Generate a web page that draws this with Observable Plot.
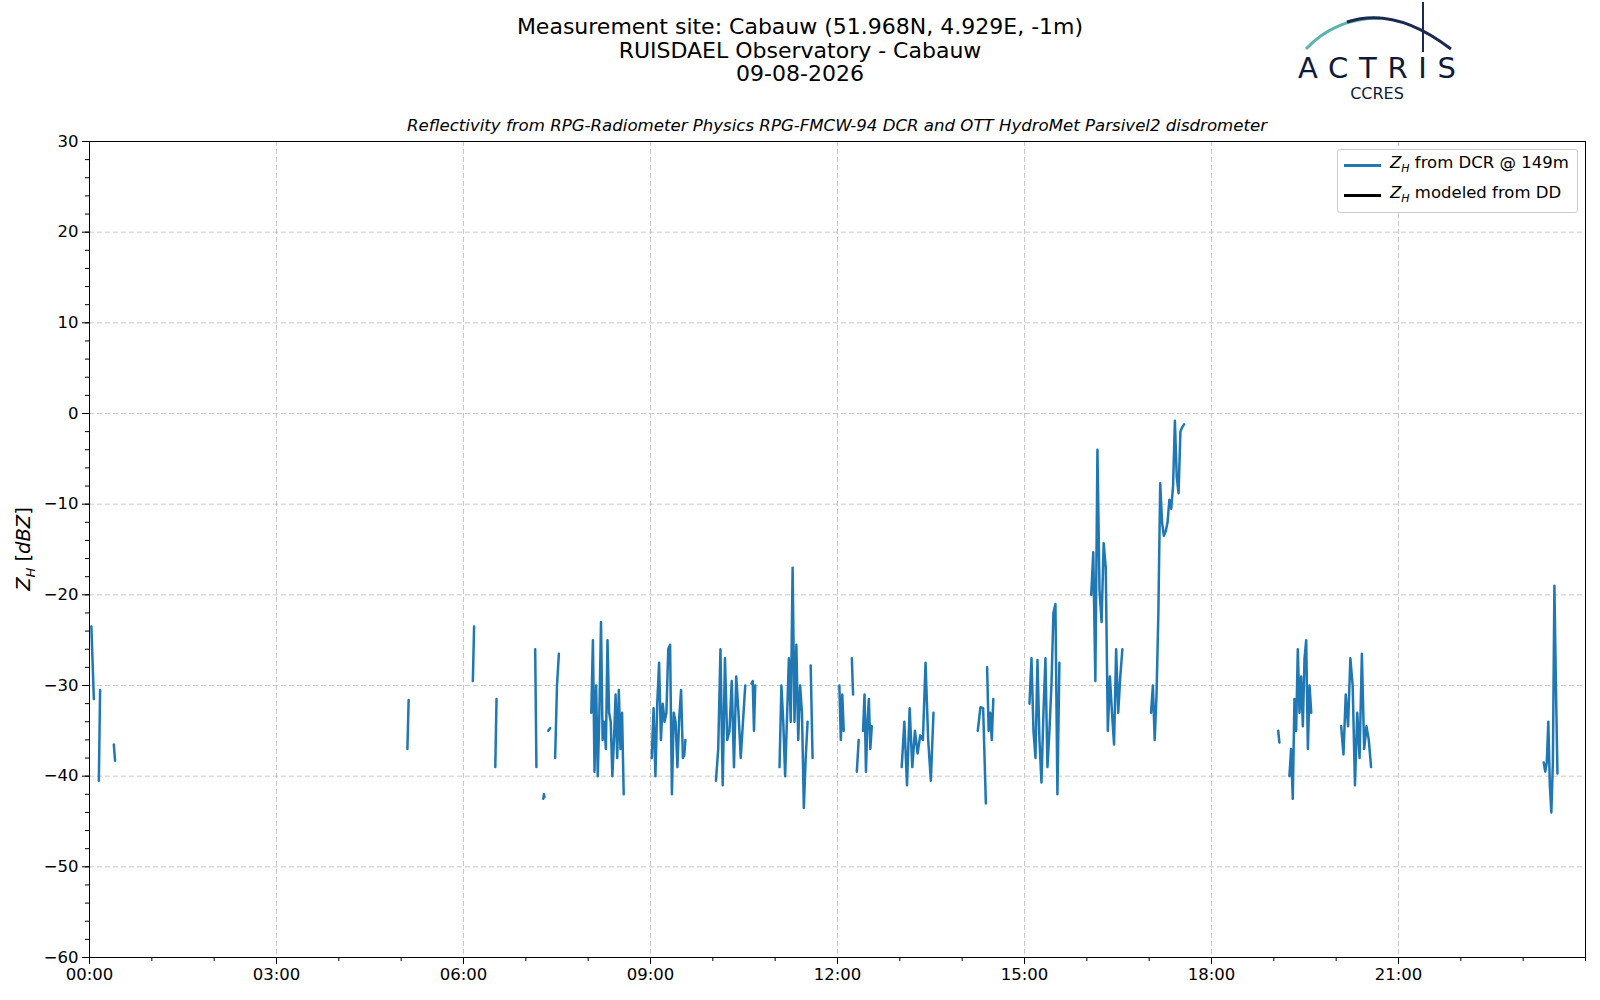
<!DOCTYPE html>
<html><head><meta charset="utf-8">
<script src="https://cdn.jsdelivr.net/npm/d3@7"></script>
<script src="https://cdn.jsdelivr.net/npm/@observablehq/plot@0.6"></script>
<style>
html,body{margin:0;background:#fff;font-family:"DejaVu Sans",sans-serif;overflow:hidden;}
#wrap{position:relative;width:1600px;height:1000px;overflow:hidden;}
.t{position:absolute;left:0;width:1600px;text-align:center;font-size:22px;line-height:23.5px;}
#sub{position:absolute;left:89px;width:1496px;top:116px;text-align:center;font-size:16.6px;font-style:italic;}
#leg{position:absolute;left:1337px;top:149px;width:239px;height:62px;border:1px solid #ccc;border-radius:3px;background:#fff;font-size:16.5px;}
#leg div{position:absolute;left:52px;}
#leg span.l{position:absolute;left:6px;width:37px;height:2.6px;}
</style></head><body>
<div id="wrap">
<div class="t" style="top:15px">Measurement site: Cabauw (51.968N, 4.929E, -1m)<br>RUISDAEL Observatory - Cabauw<br>09-08-2026</div>
<div id="sub">Reflectivity from RPG-Radiometer Physics RPG-FMCW-94 DCR and OTT HydroMet Parsivel2 disdrometer</div>
<svg style="position:absolute;left:1280px;top:0" width="200" height="110">
<path d="M26,49 Q55,18 100,18" fill="none" stroke="#5bb3b0" stroke-width="3"/>
<path d="M67,22 Q115,6 171,49" fill="none" stroke="#1a2a50" stroke-width="3"/>
<line x1="143" y1="2" x2="143" y2="52" stroke="#1a2a50" stroke-width="2"/>
<text x="18" y="78" textLength="158" lengthAdjust="spacing" font-size="29" fill="#0d1a3a" font-family="DejaVu Sans">ACTRIS</text>
<text x="97" y="99" text-anchor="middle" font-size="16" fill="#0d1a3a" font-family="DejaVu Sans">CCRES</text>
</svg>
<div id="chart" style="position:absolute;left:0;top:0"></div>
<div id="leg">
<span class="l" style="top:14px;background:#1f77b4"></span><div style="top:3px"><i>Z<sub style="font-size:11px">H</sub></i> from DCR @ 149m</div>
<span class="l" style="top:44px;background:#000"></span><div style="top:33px"><i>Z<sub style="font-size:11px">H</sub></i> modeled from DD</div>
</div>
</div>
<script>
// segments: [startHour, endHour, values dBZ]
const segStart = [0.03,0.15,0.39,5.10,6.15,6.51,7.15,7.28,7.36,7.47,8.05,9.02,9.54,10.05,10.62,11.07,11.57,12.03,12.23,12.31,12.41,13.03,14.25,14.40,15.08,16.07,17.03,19.07,19.25,20.08,23.33];
const segEnd   = [0.07,0.17,0.41,5.12,6.17,6.53,7.17,7.30,7.39,7.53,8.57,9.52,9.56,10.52,10.68,11.52,11.60,12.10,12.25,12.34,12.55,13.54,14.38,14.50,15.56,16.57,17.56,19.09,19.60,20.56,23.55];
const segVals = [
 [-23.5,-31.5],[-40.5,-30.5],[-36.5,-38.3],[-37,-31.6],[-29.5,-23.5],[-39,-31.5],[-26,-39],[-42.5,-42,-42.3],[-35,-34.7],[-38,-30,-26.5],
 [-33,-25,-39.5,-30,-40,-33,-23,-36,-34,-37,-25,-33,-34,-40,-36,-31,-38,-30.5,-37,-33,-42],
 [-38,-32.5,-40,-32,-27.5,-36,-32,-34,-33,-26,-25.5,-42,-33,-34,-39,-33.5,-30.5,-38],
 [-37.8,-36],
 [-40.5,-37,-26,-41,-27,-36,-35,-29.5,-39,-29,-33,-38,-34,-30],
 [-29.8,-29.5,-35,-30],
 [-39,-30,-34,-40,-33.5,-27,-34,-17,-34,-25.5,-36,-30,-33,-43.5,-38,-34],
 [-27.8,-38],
 [-30,-36,-31,-35],[-27,-31],[-39.5,-36],[-35,-31,-39.5,-34,-31.5,-37,-34.5],
 [-39,-34,-41,-32.5,-39,-35,-37.5,-35.5,-36,-27.5,-36,-40.5,-33],
 [-35,-32.4,-32.5,-43],[-28,-35,-33,-36,-31.5],
 [-32,-27,-35,-38,-27.2,-36,-40.7,-33,-27,-39,-35,-30,-22,-21,-42,-27.5],
 [-20,-15.3,-29.5,-4,-19.5,-23,-14.3,-17,-35,-29,-33,-36.5,-26,-33,-29,-26],
 [-33,-30,-36,-31,-22,-7.7,-12,-13.5,-13,-12,-9.5,-10.5,-8,-0.8,-7,-8.8,-2,-1.5,-1.2],
 [-35,-36.3],
 [-40,-37,-42.5,-31.5,-35,-26,-33,-29,-34.5,-27,-25,-37,-30,-33],
 [-34.5,-37.6,-31,-34.5,-27,-30,-41,-33,-38,-26.5,-37,-34.5,-36,-39],
 [-38.5,-39.5,-38.5,-34,-41,-44,-38.5,-19,-30,-39.7]
];
const yTicks = [-60,-50,-40,-30,-20,-10,0,10,20,30];
const day0 = Date.UTC(2026,7,9);
const rows = [];
segVals.forEach((vals,i)=>{
  const n = vals.length;
  vals.forEach((v,j)=>{
    const h = segStart[i] + (n>1 ? (segEnd[i]-segStart[i])*j/(n-1) : 0);
    rows.push({seg:i, t:new Date(day0 + h*3600e3), v});
  });
});
const xTicks = d3.range(0,24,3).map(h=>new Date(day0+h*3600e3));
const xMinor = d3.range(0,25,1).map(h=>new Date(day0+h*3600e3));
const yMinor = d3.range(-60,31,2);
const plot = Plot.plot({
  width:1600, height:1000,
  marginLeft:89, marginRight:15, marginTop:141, marginBottom:43,
  style:{fontSize:"16.5px", fontFamily:"DejaVu Sans", background:"transparent", color:"#000"},
  x:{type:"utc", domain:[new Date(day0), new Date(day0+24*3600e3)]},
  y:{type:"linear", domain:[-60,30]},
  marks:[
    Plot.gridX(xTicks.slice(1),{stroke:"#bbb", strokeOpacity:0.8, strokeDasharray:"5,3"}),
    Plot.gridY(yTicks.slice(1,-1),{stroke:"#bbb", strokeOpacity:0.8, strokeDasharray:"5,3"}),
    Plot.line(rows,{x:"t", y:"v", z:"seg", stroke:"#1f77b4", strokeWidth:2.5}),
    Plot.axisY({ticks:yMinor, tickSize:4, tickFormat:()=>"", label:null}),
    Plot.axisX({ticks:xMinor, tickSize:4, tickFormat:()=>"", label:null}),
    Plot.axisY({ticks:yTicks, tickSize:7, tickPadding:4, tickFormat:d=>d<0?"\u2212"+(-d):String(d), label:null}),
    Plot.axisX({ticks:xTicks, tickSize:7, tickPadding:4, tickFormat:d3.utcFormat("%H:%M"), label:null}),
    Plot.frame({stroke:"#000"})
  ]
});
document.getElementById("chart").appendChild(plot);
const svg = d3.select(plot);
const lab = svg.append("text").attr("transform","translate(30,549) rotate(-90)").attr("text-anchor","middle").attr("font-size",19.5).attr("font-family","DejaVu Sans");
lab.append("tspan").attr("font-style","italic").text("Z");
lab.append("tspan").attr("font-style","italic").attr("font-size",13).attr("dy",5).text("H");
lab.append("tspan").attr("dy",-5).text(" [");
lab.append("tspan").attr("font-style","italic").text("dBZ");
lab.append("tspan").text("]");
</script>
</body></html>
